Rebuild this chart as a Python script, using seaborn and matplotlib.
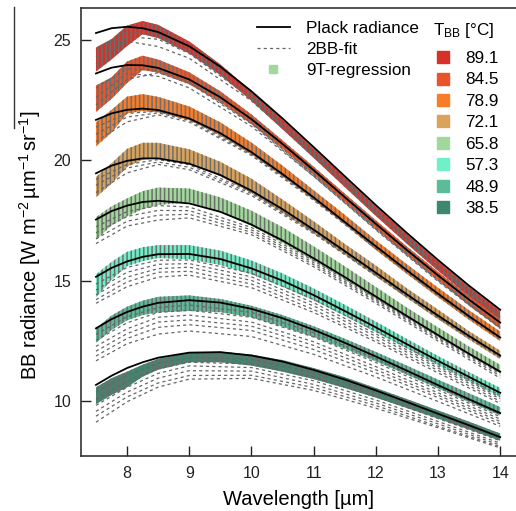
import pandas as pd
import seaborn as sns
import matplotlib.pyplot as plt
from matplotlib.lines import Line2D

# wavelength grid [um]
wavelength = [7.5, 7.75, 8.0, 8.25, 8.5, 9.0, 9.5, 10.0, 10.5, 11.0, 11.5, 12.0, 12.5, 13.0, 13.5, 14.0]
fit_wavelength = [7.5, 8.0, 8.5, 9.0, 10.0, 11.0, 12.0, 13.0, 14.0]

temps = ["89.1", "84.5", "78.9", "72.1", "65.8", "57.3", "48.9", "38.5"]
colors = ["#d63228", "#e8552a", "#f97d28", "#dba35a", "#a1d99b", "#6ff0c8", "#5cbb98", "#3d876d"]

# Planck radiance
planck_891 = [25.29, 25.49, 25.55, 25.49, 25.33, 24.74, 23.89, 22.87, 21.74, 20.55, 19.34, 18.14, 16.98, 15.86, 14.79, 13.79]
planck_845 = [23.61, 23.85, 23.96, 23.95, 23.84, 23.36, 22.62, 21.71, 20.68, 19.59, 18.47, 17.36, 16.27, 15.22, 14.21, 13.26]
planck_789 = [21.68, 21.95, 22.10, 22.15, 22.09, 21.74, 21.13, 20.34, 19.43, 18.46, 17.44, 16.43, 15.43, 14.46, 13.52, 12.64]
planck_721 = [19.46, 19.78, 19.98, 20.08, 20.08, 19.86, 19.39, 18.74, 17.97, 17.12, 16.23, 15.33, 14.43, 13.55, 12.70, 11.89]
planck_658 = [17.54, 17.89, 18.12, 18.27, 18.32, 18.21, 17.86, 17.33, 16.67, 15.93, 15.15, 14.34, 13.53, 12.74, 11.96, 11.22]
planck_573 = [15.16, 15.53, 15.80, 15.99, 16.10, 16.11, 15.90, 15.51, 15.00, 14.40, 13.74, 13.06, 12.36, 11.67, 11.00, 10.34]
planck_489 = [13.02, 13.40, 13.70, 13.92, 14.08, 14.19, 14.09, 13.83, 13.44, 12.96, 12.42, 11.85, 11.26, 10.66, 10.07, 9.50]
planck_385 = [10.67, 11.05, 11.37, 11.61, 11.80, 12.01, 12.03, 11.89, 11.64, 11.29, 10.89, 10.44, 9.96, 9.47, 8.99, 8.50]

# 9T-regression spread, upper / lower edge relative to the Planck curve
reg_hi_891 = [-0.6, -0.45, 0.05, 0.3, 0.3, 0.2, 0.1, 0.0, -0.05, -0.05, -0.05, -0.05, -0.05, -0.05, -0.05, -0.05]
reg_lo_891 = [-1.6, -1.3, -0.8, -0.25, -0.25, -0.3, -0.35, -0.4, -0.45, -0.45, -0.45, -0.45, -0.45, -0.45, -0.45, -0.45]
reg_hi_845 = [-0.5, -0.4, 0.15, 0.4, 0.35, 0.3, 0.25, 0.2, 0.15, 0.15, 0.15, 0.15, 0.15, 0.15, 0.15, 0.15]
reg_lo_845 = [-1.6, -1.3, -0.75, -0.2, -0.2, -0.2, -0.2, -0.2, -0.2, -0.2, -0.2, -0.2, -0.2, -0.2, -0.25, -0.25]
reg_hi_789 = [-0.1, 0.15, 0.55, 0.6, 0.55, 0.5, 0.45, 0.4, 0.35, 0.3, 0.3, 0.25, 0.25, 0.25, 0.25, 0.25]
reg_lo_789 = [-1.1, -0.8, -0.15, -0.1, -0.1, -0.07, -0.1, -0.1, -0.1, -0.1, -0.1, -0.15, -0.15, -0.15, -0.15, -0.15]
reg_hi_721 = [-0.15, 0.1, 0.5, 0.65, 0.65, 0.6, 0.55, 0.5, 0.4, 0.35, 0.3, 0.3, 0.25, 0.25, 0.2, 0.2]
reg_lo_721 = [-1.0, -0.75, -0.25, -0.05, 0.0, 0.0, -0.05, -0.1, -0.15, -0.15, -0.15, -0.15, -0.15, -0.15, -0.15, -0.15]
reg_hi_658 = [0.1, 0.2, 0.3, 0.45, 0.55, 0.62, 0.6, 0.58, 0.55, 0.5, 0.45, 0.4, 0.35, 0.32, 0.3, 0.28]
reg_lo_658 = [-0.85, -0.6, -0.45, -0.3, -0.18, 0.05, 0.0, -0.05, -0.1, -0.1, -0.1, -0.1, -0.08, -0.08, -0.06, -0.06]
reg_hi_573 = [0.1, 0.25, 0.4, 0.4, 0.38, 0.37, 0.35, 0.33, 0.3, 0.28, 0.26, 0.24, 0.22, 0.2, 0.2, 0.2]
reg_lo_573 = [-0.85, -0.5, -0.2, -0.18, -0.16, -0.22, -0.25, -0.25, -0.25, -0.22, -0.2, -0.2, -0.18, -0.18, -0.17, -0.17]
reg_hi_489 = [0.0, 0.15, 0.22, 0.25, 0.25, 0.2, 0.15, 0.13, 0.13, 0.15, 0.17, 0.19, 0.21, 0.23, 0.25, 0.25]
reg_lo_489 = [-0.6, -0.45, -0.35, -0.35, -0.4, -0.45, -0.4, -0.35, -0.35, -0.3, -0.25, -0.2, -0.17, -0.14, -0.12, -0.1]
reg_hi_385 = [-0.1, -0.1, -0.15, -0.1, -0.05, 0.0, 0.02, 0.04, 0.06, 0.08, 0.1, 0.1, 0.12, 0.14, 0.15, 0.15]
reg_lo_385 = [-0.8, -0.8, -0.8, -0.6, -0.5, -0.4, -0.42, -0.42, -0.42, -0.38, -0.35, -0.3, -0.25, -0.2, -0.17, -0.15]

# 2BB-fit curves, offset from the Planck curve at fit_wavelength
fits_891 = [[-1.0, -0.6, -0.6, -0.5, -0.4, -0.35, -0.3, -0.3, -0.3],
            [-1.3, -0.4, -0.3, -0.3, -0.3, -0.3, -0.3, -0.3, -0.3],
            [-0.7, -0.2, -0.15, -0.2, -0.2, -0.2, -0.25, -0.25, -0.25]]
fits_845 = [[-0.6, -0.15, -0.1, -0.1, -0.15, -0.2, -0.2, -0.2, -0.2],
            [-1.0, -0.35, -0.35, -0.35, -0.3, -0.25, -0.22, -0.2, -0.2],
            [-1.3, -0.6, -0.2, -0.15, -0.2, -0.25, -0.25, -0.25, -0.25]]
fits_789 = [[-0.3, -0.15, -0.05, 0.0, -0.02, -0.02, -0.02, -0.02, -0.02],
            [-0.6, -0.3, -0.12, -0.08, -0.08, -0.07, -0.06, -0.05, -0.04],
            [-0.9, -0.5, -0.2, -0.15, -0.14, -0.12, -0.1, -0.08, -0.06]]
fits_721 = [[-0.25, -0.15, -0.05, -0.05, -0.05, -0.05, -0.04, -0.03, -0.02],
            [-0.5, -0.3, -0.15, -0.15, -0.12, -0.1, -0.08, -0.06, -0.05],
            [-0.8, -0.5, -0.25, -0.25, -0.2, -0.16, -0.13, -0.1, -0.08]]
fits_658 = [[-0.3, -0.25, -0.2, -0.15, -0.12, -0.1, -0.08, -0.06, -0.05],
            [-0.55, -0.45, -0.4, -0.3, -0.22, -0.18, -0.14, -0.12, -0.1],
            [-0.8, -0.65, -0.6, -0.45, -0.32, -0.26, -0.2, -0.17, -0.18],
            [-1.0, -0.85, -0.8, -0.6, -0.42, -0.35, -0.28, -0.25, -0.27]]
fits_573 = [[-0.3, -0.25, -0.25, -0.25, -0.2, -0.18, -0.15, -0.12, -0.1],
            [-0.55, -0.45, -0.42, -0.4, -0.35, -0.32, -0.27, -0.22, -0.18],
            [-0.75, -0.65, -0.6, -0.55, -0.5, -0.45, -0.37, -0.3, -0.25],
            [-0.95, -0.85, -0.75, -0.72, -0.65, -0.6, -0.5, -0.4, -0.35],
            [-1.1, -1.05, -0.95, -0.88, -0.8, -0.72, -0.6, -0.5, -0.44]]
fits_489 = [[-0.25, -0.2, -0.2, -0.2, -0.15, -0.12, -0.1, -0.08, -0.05],
            [-0.5, -0.45, -0.4, -0.42, -0.35, -0.3, -0.25, -0.2, -0.15],
            [-0.75, -0.7, -0.6, -0.62, -0.55, -0.5, -0.42, -0.32, -0.25],
            [-0.95, -0.9, -0.8, -0.82, -0.72, -0.65, -0.55, -0.42, -0.35],
            [-1.15, -1.1, -1.02, -1.02, -0.9, -0.82, -0.68, -0.52, -0.45],
            [-1.35, -1.32, -1.3, -1.28, -1.15, -1.02, -0.85, -0.68, -0.55]]
fits_385 = [[-0.3, -0.3, -0.25, -0.2, -0.15, -0.12, -0.1, -0.08, -0.05],
            [-0.6, -0.55, -0.45, -0.4, -0.35, -0.3, -0.25, -0.2, -0.15],
            [-0.85, -0.8, -0.65, -0.55, -0.5, -0.45, -0.4, -0.32, -0.25],
            [-1.1, -1.0, -0.85, -0.75, -0.65, -0.6, -0.52, -0.42, -0.33],
            [-1.3, -1.2, -1.05, -0.95, -0.82, -0.73, -0.63, -0.52, -0.4],
            [-1.55, -1.4, -1.22, -1.1, -0.95, -0.85, -0.74, -0.58, -0.45]]

planck_all = [planck_891, planck_845, planck_789, planck_721, planck_658, planck_573, planck_489, planck_385]
reg_hi_all = [reg_hi_891, reg_hi_845, reg_hi_789, reg_hi_721, reg_hi_658, reg_hi_573, reg_hi_489, reg_hi_385]
reg_lo_all = [reg_lo_891, reg_lo_845, reg_lo_789, reg_lo_721, reg_lo_658, reg_lo_573, reg_lo_489, reg_lo_385]
fits_all = [fits_891, fits_845, fits_789, fits_721, fits_658, fits_573, fits_489, fits_385]

# long-form tables for seaborn
planck_rows = []
for t, p in zip(temps, planck_all):
    for w, v in zip(wavelength, p):
        planck_rows.append({"wl": w, "rad": v, "temp": t})
planck_df = pd.DataFrame(planck_rows)

fit_idx = [wavelength.index(w) for w in fit_wavelength]
fit_rows = []
for t, p, fits in zip(temps, planck_all, fits_all):
    for k, off in enumerate(fits):
        for j, o in zip(fit_idx, off):
            fit_rows.append({"wl": wavelength[j], "rad": p[j] + o, "curve": f"{t}_{k}"})
fit_df = pd.DataFrame(fit_rows)

# plain R-like look: box on three sides, ticks pointing in
plt.rcParams.update({
    "font.family": ["Liberation Sans", "DejaVu Sans"],
    "mathtext.fontset": "custom",
    "mathtext.rm": "Liberation Sans",
    "mathtext.it": "Liberation Sans:italic",
    "hatch.linewidth": 1.1,
    "hatch.color": "#6e6e6e",
    "axes.linewidth": 1.2,
    "axes.edgecolor": "#333333",
    "xtick.direction": "in",
    "ytick.direction": "in",
    "xtick.major.size": 7,
    "ytick.major.size": 7,
    "xtick.major.width": 1.0,
    "ytick.major.width": 1.0,
    "xtick.major.pad": 7,
    "ytick.major.pad": 7,
    "xtick.color": "#222222",
    "ytick.color": "#222222",
    "xtick.labelsize": 11.5,
    "ytick.labelsize": 11.5,
})

fit_color = "#666666"

fig = plt.figure(figsize=(5.16, 5.11), dpi=100)
ax = fig.add_axes([81 / 516, 1 - 456 / 511, 435 / 516, 448 / 511])

# 9T-regression spread
for p, hi, lo, c in zip(planck_all, reg_hi_all, reg_lo_all, colors):
    upper = [a + b for a, b in zip(p, hi)]
    lower = [a + b for a, b in zip(p, lo)]
    ax.fill_between(wavelength, lower, upper, facecolor=c, edgecolor="#6e6e6e",
                    linewidth=0, hatch="||||", zorder=1)

# 2BB fits
sns.lineplot(data=fit_df, x="wl", y="rad", units="curve", estimator=None, sort=False,
             color=fit_color, linewidth=0.9, linestyle=(0, (2.5, 2.5)),
             legend=False, ax=ax, zorder=2)

# Planck radiance
sns.lineplot(data=planck_df, x="wl", y="rad", units="temp", estimator=None, sort=False,
             color="black", linewidth=1.3, legend=False, ax=ax, zorder=3)

ax.set_xlim(7.259, 14.254)
ax.set_ylim(7.715, 26.33)
ax.set_xticks([8, 9, 10, 11, 12, 13, 14])
ax.set_yticks([10, 15, 20, 25])
ax.spines["right"].set_visible(False)

ax.set_xlabel("Wavelength [µm]", fontsize=14.5)
ax.set_ylabel(r"BB radiance [W m$^{-2}\,$µm$^{-1}\,$sr$^{-1}$]", fontsize=14.5)
ax.xaxis.set_label_coords(0.5, -0.075)
ax.yaxis.set_label_coords(-0.088, 0.47)

# odd bar next to the y label in the original
fig.add_artist(Line2D([14 / 516, 14 / 516], [1 - 7 / 511, 1 - 128 / 511],
                      color="#333333", linewidth=1.0))

# legend for the curve types
h_planck = Line2D([], [], color="black", linewidth=1.3)
h_fit = Line2D([], [], color=fit_color, linewidth=0.9, linestyle=(0, (2.5, 2.5)))
h_reg = Line2D([], [], color="#a1d99b", marker="s", markersize=5.5, linestyle="none")
leg1 = ax.legend([h_planck, h_fit, h_reg], ["Plack radiance", "2BB-fit", "9T-regression"],
                 loc="upper left", bbox_to_anchor=(257 / 516, 1 - 21 / 511),
                 bbox_transform=fig.transFigure, frameon=False, fontsize=12.3,
                 handlelength=1.93, handletextpad=0.94, labelspacing=0.35,
                 borderpad=0, borderaxespad=0)
ax.add_artist(leg1)

# legend for the blackbody temperatures
temp_handles = [Line2D([], [], color=c, marker="s", markersize=9, linestyle="none") for c in colors]
ax.legend(temp_handles, temps, loc="upper left", bbox_to_anchor=(434.5 / 516, 1 - 51 / 511),
          bbox_transform=fig.transFigure, frameon=False, fontsize=12.3,
          handlelength=1.0, handletextpad=0.8, labelspacing=0.38,
          borderpad=0, borderaxespad=0)
fig.text(433 / 516, 1 - 35 / 511, r"T$_{\mathrm{BB}}$ [°C]", fontsize=12.3, ha="left", va="baseline")

fig.savefig("out.png", dpi=100)
